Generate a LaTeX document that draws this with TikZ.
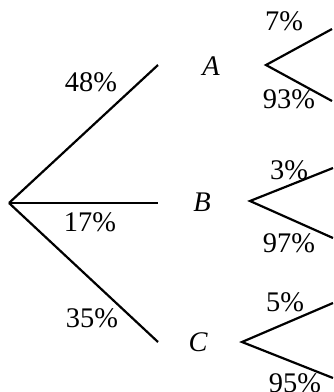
\documentclass[tikz,border=0pt]{standalone}
\usepackage{fontspec}
\setmainfont{Liberation Serif}
\usetikzlibrary{positioning}

\begin{document}
\begin{tikzpicture}[
    x=0.5pt, y=-0.5pt,
    branch/.style={line width=1.1pt},
    pct/.style={inner sep=0pt, font=\fontsize{14.2}{16}\selectfont},
    ev/.style={inner sep=0pt, font=\fontsize{14.2}{16}\selectfont\itshape}
]
    \useasboundingbox (0,0) rectangle (333,392);

    % first stage
    \coordinate (root) at (9,203);
    \coordinate (aend) at (158,65);
    \coordinate (bend) at (158,203);
    \coordinate (cend) at (158,342);

    \draw[branch] (root) -- (aend);
    \draw[branch] (root) -- (bend);
    \draw[branch] (root) -- (cend);

    \node[pct] (pa) at (91,82) {48\%};
    \node[pct] (pb) at (90,222) {17\%};
    \node[pct] (pc) at (92,318) {35\%};

    \node[ev] (A) at (211,66) {A};
    \node[ev] (B) at (202,202) {B};
    \node[ev] (C) at (198,342) {C};

    % second stage
    \coordinate (avert) at (266,65);
    \coordinate (aup) at (332,29);
    \coordinate (adown) at (332,101);
    \coordinate (bvert) at (250,201);
    \coordinate (bup) at (333,168);
    \coordinate (bdown) at (333,238);
    \coordinate (cvert) at (242,342);
    \coordinate (cup) at (333,303);
    \coordinate (cdown) at (333,378);

    \draw[branch] (aup) -- (avert) -- (adown);
    \draw[branch] (bup) -- (bvert) -- (bdown);
    \draw[branch] (cup) -- (cvert) -- (cdown);

    \node[pct] (aupp) at (284,21) {7\%};
    \node[pct] (adownp) at (289,99) {93\%};
    \node[pct] (bupp) at (289,170) {3\%};
    \node[pct] (bdownp) at (289,243) {97\%};
    \node[pct] (cupp) at (285,302) {5\%};
    \node[pct] (cdownp) at (295,383) {95\%};
\end{tikzpicture}
\end{document}
